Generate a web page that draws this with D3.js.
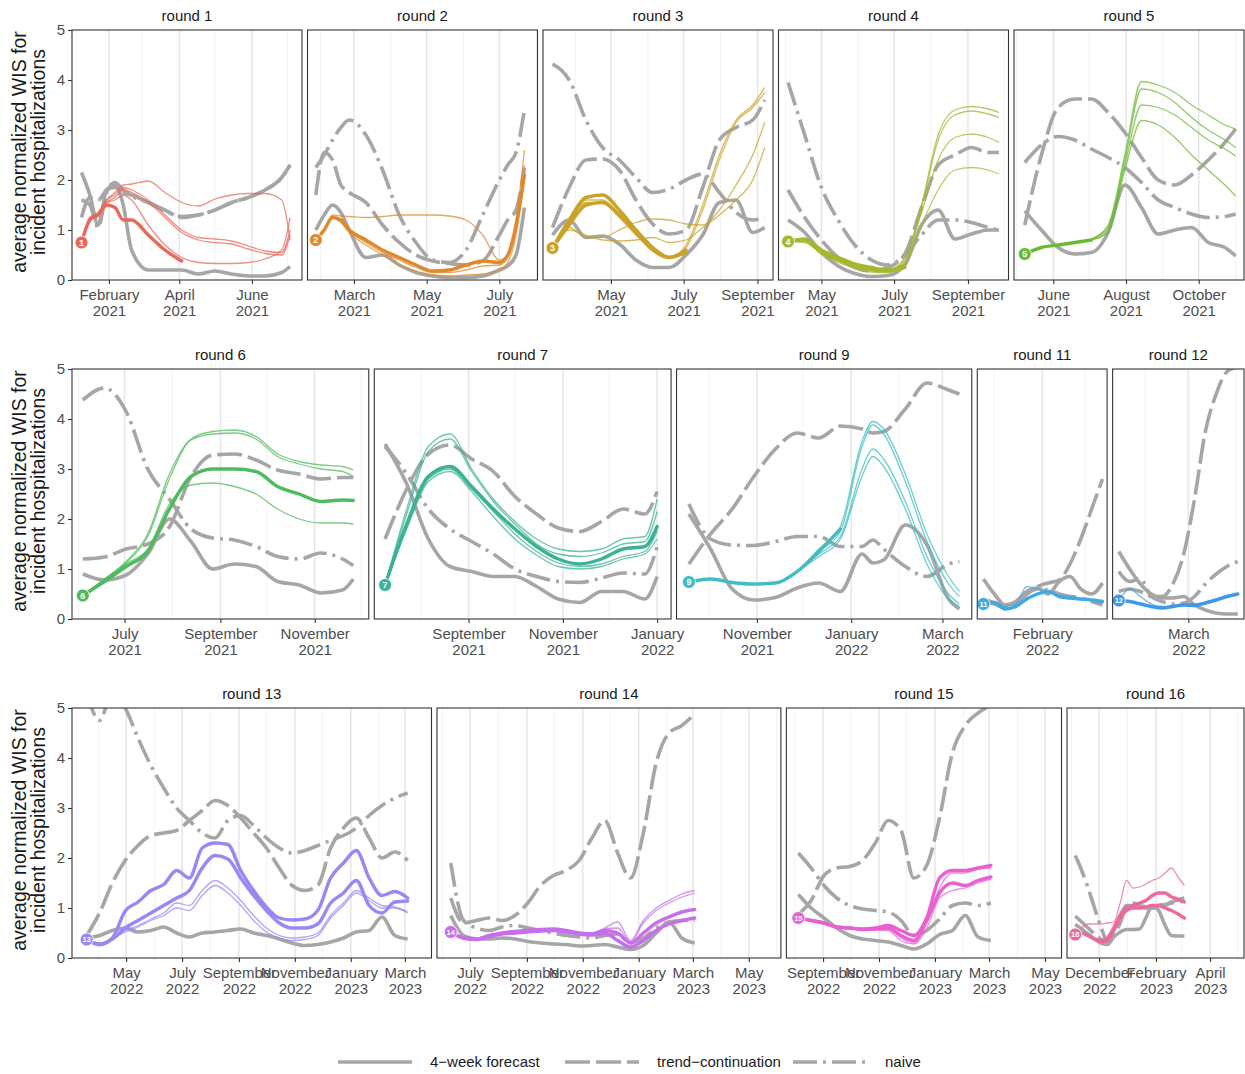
<!DOCTYPE html>
<html><head><meta charset="utf-8">
<script src="https://cdn.jsdelivr.net/npm/d3@7"></script>
<style>
body{margin:0;background:#fff}
svg text{font-family:"Liberation Sans",Arial,Helvetica,sans-serif}
</style>
</head><body>
<svg id="chart" width="1245" height="1074"></svg>
<script>
// ---------------- DATA ----------------
const roundIds = [1,2,3,4,5,6,7,9,11,12,13,14,15,16];
const roundColors = ["#E8685C","#E0882A","#C9A227","#A6B72E","#6CB934","#4FBB5E","#3AB394","#3CBEC3","#40A8E2","#3D97EA","#9A86F5","#C76EEF","#E762D0","#EA6A9E"];
const legendLabels = ["4\u2212week forecast","trend\u2212continuation","naive"];
const yTicks = [0,1,2,3,4,5];

// round 1
const r1Domain = ["2021-01-01","2021-07-13"];
const r1Ticks = ["2021-02-01","2021-04-01","2021-06-01"];
const r1Dates = ["2021-01-09","2021-01-16","2021-01-23","2021-01-30","2021-02-06","2021-02-13","2021-02-20","2021-03-06","2021-03-20","2021-04-03","2021-04-17","2021-05-01","2021-05-15","2021-05-29","2021-06-12","2021-06-26","2021-07-03"];
const r1Forecast = [2.15,1.7,1.1,1.8,1.9,1.5,0.6,0.2,0.2,0.2,0.12,0.18,0.12,0.08,0.08,0.15,0.27];
const r1Trend = [1.25,1.65,1.6,1.8,1.85,1.75,1.7,1.55,1.4,1.25,1.3,1.4,1.55,1.65,1.8,2.05,2.3];
const r1Naive = [1.6,1.5,1.05,1.75,1.95,1.8,1.68,1.55,1.38,1.27,1.3,1.4,1.55,1.65,1.8,2.05,2.3];
const r1Thick = [[0.75,1.2,1.3,1.5,1.45,1.2,1.2,0.9,0.6,0.38,null,null,null,null,null,null,null]];
const r1Thin = [
  [0.75,1.25,1.35,1.6,1.75,1.9,1.92,1.98,1.75,1.55,1.48,1.62,1.7,1.73,1.73,1.6,0.8],
  [0.75,1.25,1.35,1.6,1.7,1.85,1.8,1.6,1.3,1.0,0.85,0.82,0.78,0.68,0.58,0.55,1.0],
  [0.75,1.2,1.3,1.55,1.65,1.8,1.75,1.55,1.25,0.95,0.8,0.75,0.72,0.62,0.53,0.5,0.9],
  [0.75,1.2,1.3,1.55,1.6,1.7,1.6,1.1,0.7,0.45,0.35,0.33,0.33,0.35,0.42,0.6,1.25]];

// round 2
const r2Domain = ["2021-01-21","2021-08-02"];
const r2Ticks = ["2021-03-01","2021-05-01","2021-07-01"];
const r2Dates = ["2021-01-28","2021-02-04","2021-02-11","2021-02-18","2021-02-25","2021-03-11","2021-03-25","2021-04-08","2021-04-22","2021-05-06","2021-05-20","2021-06-03","2021-06-17","2021-07-01","2021-07-08","2021-07-15","2021-07-22"];
const r2Forecast = [1.0,1.3,1.5,1.35,1.0,0.45,0.5,0.3,0.15,0.08,0.05,0.05,0.08,0.2,0.28,0.5,1.45];
const r2Trend = [1.7,2.55,2.4,1.9,1.75,1.55,1.1,0.75,0.5,0.38,0.33,0.3,0.38,0.9,1.2,1.4,2.25];
const r2Naive = [2.25,2.5,2.8,3.05,3.2,2.9,2.2,1.3,0.75,0.4,0.35,0.6,1.3,2.0,2.3,2.55,3.4];
const r2Thick = [[0.8,1.0,1.25,1.2,1.0,0.8,0.6,0.45,0.3,0.18,0.2,0.3,0.38,0.35,0.5,1.1,2.1]];
const r2Thin = [
  [0.8,1.0,1.3,1.28,1.27,1.25,1.27,1.3,1.3,1.3,1.28,1.2,0.9,0.4,0.5,1.2,2.6],
  [0.8,1.0,1.25,1.15,0.95,0.7,0.5,0.3,0.18,0.1,0.08,0.1,0.12,0.2,0.35,0.9,2.0],
  [0.8,1.0,1.25,1.18,1.0,0.75,0.55,0.4,0.25,0.15,0.15,0.2,0.28,0.3,0.45,1.0,2.3]];

// round 3
const r3Domain = ["2021-03-05","2021-09-14"];
const r3Ticks = ["2021-05-01","2021-07-01","2021-09-01"];
const r3Dates = ["2021-03-13","2021-03-27","2021-04-10","2021-04-24","2021-05-08","2021-05-22","2021-06-05","2021-06-19","2021-07-03","2021-07-17","2021-07-31","2021-08-14","2021-08-28","2021-09-07"];
const r3Forecast = [0.9,1.2,0.85,0.88,0.72,0.4,0.25,0.25,0.5,0.9,1.55,1.6,0.95,1.05];
const r3Trend = [1.05,1.85,2.4,2.42,2.2,1.6,1.12,0.92,1.0,1.85,2.8,3.05,3.2,3.6];
const r3Naive = [4.32,4.0,3.2,2.65,2.4,2.05,1.75,1.82,2.0,2.12,1.75,1.35,1.2,1.25];
const r3Thick = [
  [0.64,1.2,1.65,1.7,1.4,1.0,0.65,0.45,0.6,null,null,null,null,null],
  [0.64,1.1,1.5,1.55,1.3,0.95,0.6,0.45,0.55,null,null,null,null,null]];
const r3Thin = [
  [0.64,1.2,1.6,1.6,1.3,0.95,0.6,0.45,0.7,1.5,2.5,3.2,3.5,3.85],
  [0.64,1.15,1.55,1.55,1.25,0.9,0.6,0.45,0.65,1.4,2.4,3.15,3.45,3.75],
  [0.64,1.05,0.85,0.85,1.0,1.15,1.22,1.2,1.12,1.1,1.4,1.9,2.5,3.15],
  [0.64,1.0,0.9,0.8,0.78,0.8,0.85,0.75,0.8,1.05,1.3,1.6,2.0,2.65]];

// round 4
const r4Domain = ["2021-03-26","2021-10-05"];
const r4Ticks = ["2021-05-01","2021-07-01","2021-09-01"];
const r4Dates = ["2021-04-03","2021-04-17","2021-05-01","2021-05-15","2021-05-29","2021-06-12","2021-06-26","2021-07-10","2021-07-24","2021-08-07","2021-08-21","2021-09-04","2021-09-18","2021-09-27"];
const r4Forecast = [1.2,0.95,0.55,0.28,0.13,0.07,0.09,0.3,1.1,1.4,0.82,0.92,1.0,1.0];
const r4Trend = [1.8,1.25,0.8,0.45,0.25,0.18,0.25,0.52,1.45,2.3,2.5,2.65,2.55,2.55];
const r4Naive = [3.95,2.9,1.85,1.2,0.7,0.4,0.3,0.5,0.9,1.2,1.2,1.15,1.05,1.0];
const r4Thick = [
  [0.77,0.82,0.6,0.45,0.32,0.25,0.2,0.3,null,null,null,null,null,null],
  [0.77,0.8,0.55,0.4,0.28,0.22,0.18,0.25,null,null,null,null,null,null]];
const r4Thin = [
  [0.77,0.8,0.6,0.42,0.3,0.22,0.2,0.45,1.5,2.9,3.4,3.47,3.42,3.35],
  [0.77,0.8,0.58,0.4,0.28,0.2,0.18,0.42,1.45,2.8,3.3,3.38,3.32,3.25],
  [0.77,0.78,0.55,0.38,0.26,0.18,0.16,0.38,1.35,2.4,2.85,2.92,2.85,2.75],
  [0.77,0.75,0.52,0.35,0.24,0.16,0.15,0.3,1.1,1.8,2.2,2.25,2.2,2.12]];

// round 5
const r5Domain = ["2021-04-29","2021-11-08"];
const r5Ticks = ["2021-06-01","2021-08-01","2021-10-01"];
const r5Dates = ["2021-05-08","2021-05-22","2021-06-05","2021-06-19","2021-07-03","2021-07-17","2021-07-31","2021-08-14","2021-08-28","2021-09-11","2021-09-25","2021-10-09","2021-10-23","2021-11-01"];
const r5Forecast = [1.38,1.0,0.65,0.52,0.55,0.95,1.9,1.45,0.92,1.0,1.05,0.75,0.65,0.48];
const r5Trend = [1.1,2.5,3.45,3.62,3.62,3.35,2.95,2.45,2.0,1.9,2.1,2.4,2.75,3.02];
const r5Naive = [2.35,2.7,2.87,2.8,2.62,2.45,2.25,1.95,1.6,1.45,1.32,1.25,1.27,1.32];
const r5Thick = [[0.52,0.65,0.7,0.75,0.8,null,null,null,null,null,null,null,null,null]];
const r5Thin = [
  [0.52,0.65,0.7,0.75,0.82,1.1,2.5,3.97,3.9,3.75,3.5,3.3,3.1,3.02],
  [0.52,0.65,0.7,0.75,0.82,1.05,2.4,3.82,3.75,3.55,3.25,3.0,2.8,2.65],
  [0.52,0.65,0.7,0.75,0.8,1.0,2.3,3.5,3.45,3.3,3.05,2.8,2.62,2.48],
  [0.52,0.65,0.7,0.75,0.8,0.95,2.2,3.19,3.1,2.85,2.5,2.2,1.9,1.68]];

// round 6
const r6Domain = ["2021-05-28","2021-12-06"];
const r6Ticks = ["2021-07-01","2021-09-01","2021-11-01"];
const r6Dates = ["2021-06-04","2021-06-18","2021-07-02","2021-07-16","2021-07-30","2021-08-13","2021-08-27","2021-09-10","2021-09-24","2021-10-08","2021-10-22","2021-11-05","2021-11-19","2021-11-26"];
const r6Forecast = [0.9,0.78,0.88,1.3,2.0,1.55,1.0,1.1,1.05,0.75,0.68,0.52,0.58,0.8];
const r6Trend = [1.2,1.24,1.4,1.5,1.84,2.85,3.28,3.3,3.18,2.98,2.9,2.8,2.83,2.83];
const r6Naive = [4.38,4.62,4.15,3.0,2.4,1.8,1.62,1.58,1.45,1.25,1.2,1.32,1.2,1.07];
const r6Thick = [[0.47,0.75,1.05,1.35,2.2,2.85,3.0,3.0,2.95,2.65,2.5,2.35,2.38,2.37]];
const r6Thin = [
  [0.47,0.8,1.15,1.7,2.9,3.6,3.75,3.78,3.65,3.3,3.15,3.08,3.05,2.98],
  [0.47,0.8,1.12,1.65,2.8,3.58,3.7,3.72,3.6,3.25,3.1,3.0,2.95,2.85],
  [0.47,0.78,1.1,1.4,2.3,2.68,2.72,2.65,2.5,2.2,2.0,1.92,1.92,1.9]];

// round 7
const r7Domain = ["2021-07-02","2022-01-10"];
const r7Ticks = ["2021-09-01","2021-11-01","2022-01-01"];
const r7Dates = ["2021-07-09","2021-07-23","2021-08-06","2021-08-20","2021-09-03","2021-09-17","2021-10-01","2021-10-15","2021-10-29","2021-11-12","2021-11-26","2021-12-10","2021-12-24","2022-01-01"];
const r7Forecast = [3.5,2.7,1.6,1.05,0.95,0.85,0.85,0.65,0.4,0.33,0.55,0.55,0.4,0.85];
const r7Trend = [1.6,2.6,3.3,3.48,3.2,2.95,2.45,2.1,1.82,1.75,1.95,2.2,2.1,2.55];
const r7Naive = [3.45,2.9,2.2,1.8,1.55,1.3,1.0,0.85,0.75,0.73,0.82,0.92,0.9,1.45];
const r7Thick = [[0.68,1.9,2.85,3.05,2.65,2.2,1.8,1.45,1.2,1.1,1.2,1.4,1.45,1.85]];
const r7Thin = [
  [0.68,2.2,3.45,3.7,3.0,2.4,1.95,1.6,1.4,1.35,1.4,1.6,1.65,2.4],
  [0.68,2.1,3.35,3.6,2.95,2.35,1.9,1.5,1.3,1.25,1.32,1.5,1.55,2.15],
  [0.68,1.85,2.8,3.0,2.6,2.15,1.7,1.35,1.12,1.05,1.1,1.25,1.35,1.75],
  [0.68,1.8,2.75,2.95,2.55,2.05,1.6,1.28,1.05,1.0,1.05,1.2,1.3,1.6]];

// round 9
const r9Domain = ["2021-09-10","2022-03-20"];
const r9Ticks = ["2021-11-01","2022-01-01","2022-03-01"];
const r9Dates = ["2021-09-18","2021-10-02","2021-10-16","2021-10-30","2021-11-13","2021-11-27","2021-12-11","2021-12-25","2022-01-08","2022-01-15","2022-01-22","2022-02-05","2022-02-19","2022-03-05","2022-03-12"];
const r9Forecast = [2.1,1.4,0.6,0.38,0.43,0.62,0.72,0.55,1.3,1.12,1.18,1.88,1.48,0.4,0.2];
const r9Trend = [1.1,1.7,2.2,2.85,3.4,3.72,3.62,3.86,3.8,3.72,3.75,4.2,4.72,4.58,4.5];
const r9Naive = [2.3,1.6,1.48,1.47,1.55,1.65,1.65,1.45,1.45,1.58,1.4,1.05,0.85,1.1,1.15];
const r9Thick = [[0.74,0.8,0.73,0.7,0.72,0.95,1.35,1.8,null,null,null,null,null,null,null]];
const r9Thin = [
  [0.74,0.8,0.73,0.7,0.72,0.95,1.4,1.85,3.55,3.95,3.8,2.9,1.7,0.85,0.55],
  [0.74,0.8,0.73,0.7,0.72,0.95,1.35,1.75,3.45,3.88,3.7,2.75,1.55,0.7,0.45],
  [0.74,0.8,0.73,0.7,0.72,0.95,1.3,1.65,3.0,3.4,3.2,2.35,1.25,0.5,0.3],
  [0.74,0.8,0.73,0.7,0.72,0.95,1.25,1.6,2.85,3.25,3.05,2.2,1.1,0.4,0.25]];

// round 11
const r11Domain = ["2021-12-21","2022-03-15"];
const r11Ticks = ["2022-02-01"];
const r11Dates = ["2021-12-25","2022-01-01","2022-01-08","2022-01-15","2022-01-22","2022-01-29","2022-02-05","2022-02-12","2022-02-19","2022-02-26","2022-03-05","2022-03-12"];
const r11Forecast = [0.8,0.5,0.28,0.35,0.55,0.62,0.5,0.75,0.85,0.6,0.5,0.72];
const r11Trend = [0.35,0.3,0.22,0.3,0.5,0.65,0.72,0.78,1.1,1.6,2.2,2.8];
const r11Naive = [0.4,0.32,0.22,0.3,0.5,0.6,0.58,0.5,0.45,0.42,0.35,0.28];
const r11Thick = [[0.3,0.33,0.2,0.25,0.4,0.5,0.55,0.45,0.42,0.4,0.38,0.35]];
const r11Thin = [[0.3,0.35,0.25,0.3,0.65,0.6,0.55,0.48,0.45,0.4,0.37,0.32]];

// round 12
const r12Domain = ["2022-01-11","2022-04-06"];
const r12Ticks = ["2022-03-01"];
const r12Dates = ["2022-01-15","2022-01-22","2022-01-29","2022-02-05","2022-02-12","2022-02-19","2022-02-26","2022-03-05","2022-03-12","2022-03-19","2022-03-26","2022-04-02"];
const r12Forecast = [1.35,1.0,0.7,0.5,0.42,0.42,0.45,0.28,0.18,0.12,0.1,0.1];
const r12Trend = [0.55,0.6,0.55,0.45,0.45,0.7,1.3,2.4,3.75,4.5,4.95,5.05];
const r12Naive = [0.95,0.75,0.8,0.45,0.35,0.3,0.32,0.45,0.7,0.9,1.05,1.15];
const r12Thick = [[0.37,0.35,0.3,0.25,0.22,0.25,0.28,0.27,0.32,0.38,0.45,0.5]];
const r12Thin = [[0.37,0.6,0.45,0.3,0.25,0.27,0.3,0.3,0.34,0.4,0.46,0.5]];

// round 13
const r13Domain = ["2022-03-03","2023-03-30"];
const r13Ticks = ["2022-05-01","2022-07-01","2022-09-01","2022-11-01","2023-01-01","2023-03-01"];
const r13Dates = ["2022-03-19","2022-04-02","2022-04-16","2022-04-30","2022-05-14","2022-05-28","2022-06-11","2022-06-25","2022-07-09","2022-07-23","2022-08-06","2022-08-20","2022-09-03","2022-09-17","2022-10-01","2022-10-15","2022-10-29","2022-11-12","2022-11-26","2022-12-10","2022-12-24","2023-01-07","2023-01-21","2023-02-04","2023-02-18","2023-03-04"];
const r13Forecast = [0.4,0.45,0.55,0.6,0.52,0.55,0.62,0.5,0.42,0.5,0.52,0.55,0.58,0.5,0.45,0.38,0.3,0.25,0.27,0.32,0.4,0.52,0.55,0.82,0.45,0.38];
const r13Trend = [0.45,0.9,1.5,1.95,2.25,2.45,2.5,2.55,2.75,2.95,3.15,3.05,2.8,2.5,2.2,1.8,1.45,1.35,1.45,2.2,2.6,2.8,2.4,2.0,2.12,1.95];
const r13Naive = [5.3,4.75,5.3,5.0,4.4,3.85,3.4,3.0,2.75,2.5,2.4,2.75,2.85,2.65,2.4,2.2,2.1,2.15,2.25,2.35,2.45,2.6,2.85,3.05,3.2,3.3];
const r13Thick = [
  [0.37,0.27,0.4,0.94,1.12,1.35,1.47,1.75,1.6,2.2,2.3,2.27,1.75,1.35,1.02,0.8,0.76,0.78,0.95,1.6,1.9,2.15,1.6,1.25,1.33,1.2],
  [0.37,0.27,0.38,0.6,0.75,0.9,1.05,1.2,1.35,1.8,2.05,1.98,1.6,1.25,0.95,0.7,0.6,0.6,0.68,1.1,1.3,1.55,1.05,0.9,1.12,1.14]];
const r13Thin = [
  [0.37,0.3,0.38,0.55,0.65,0.78,0.9,1.1,1.05,1.35,1.55,1.4,1.15,0.85,0.6,0.45,0.4,0.42,0.5,0.85,1.1,1.35,1.2,1.05,1.02,0.93],
  [0.37,0.3,0.38,0.52,0.62,0.75,0.85,1.0,0.95,1.25,1.45,1.3,1.05,0.75,0.52,0.4,0.35,0.37,0.45,0.8,1.05,1.3,1.15,1.0,1.0,0.9]];

// round 14
const r14Domain = ["2022-05-26","2023-06-05"];
const r14Ticks = ["2022-07-01","2022-09-01","2022-11-01","2023-01-01","2023-03-01","2023-05-01"];
const r14Dates = ["2022-06-10","2022-06-24","2022-07-08","2022-07-22","2022-08-05","2022-08-19","2022-09-02","2022-09-16","2022-09-30","2022-10-14","2022-10-28","2022-11-11","2022-11-25","2022-12-09","2022-12-23","2023-01-06","2023-01-20","2023-02-03","2023-02-17","2023-03-03"];
const r14Forecast = [0.85,0.45,0.38,0.38,0.4,0.38,0.33,0.3,0.28,0.27,0.24,0.25,0.27,0.22,0.17,0.25,0.5,0.72,0.4,0.3];
const r14Trend = [1.2,0.7,0.75,0.8,0.75,0.85,1.1,1.45,1.65,1.75,1.95,2.4,2.75,2.1,1.6,2.5,3.9,4.5,4.65,4.88];
const r14Naive = [1.9,0.75,0.6,0.55,0.62,0.65,0.6,0.55,0.5,0.45,0.42,0.4,0.45,0.48,0.3,0.4,0.6,0.72,0.75,0.75];
const r14Thick = [
  [0.52,0.4,0.38,0.45,0.5,0.53,0.55,0.57,0.58,0.55,0.5,0.48,0.55,0.5,0.3,0.5,0.7,0.82,0.92,0.97],
  [0.52,0.4,0.37,0.43,0.48,0.5,0.52,0.54,0.55,0.52,0.48,0.46,0.5,0.35,0.22,0.35,0.55,0.68,0.75,0.8]];
const r14Thin = [
  [0.52,0.42,0.4,0.46,0.5,0.53,0.56,0.58,0.58,0.55,0.5,0.5,0.6,0.72,0.35,0.75,1.0,1.15,1.28,1.35],
  [0.52,0.42,0.4,0.46,0.5,0.53,0.56,0.58,0.58,0.55,0.5,0.5,0.58,0.6,0.32,0.7,0.95,1.1,1.22,1.3]];

// round 15
const r15Domain = ["2022-07-23","2023-05-19"];
const r15Ticks = ["2022-09-01","2022-11-01","2023-01-01","2023-03-01","2023-05-01"];
const r15Dates = ["2022-08-05","2022-08-19","2022-09-02","2022-09-16","2022-09-30","2022-10-14","2022-10-28","2022-11-11","2022-11-25","2022-12-09","2022-12-23","2023-01-06","2023-01-20","2023-02-03","2023-02-17","2023-03-03"];
const r15Forecast = [1.27,1.0,0.8,0.6,0.45,0.38,0.35,0.32,0.25,0.18,0.28,0.47,0.55,0.85,0.42,0.35];
const r15Trend = [0.87,1.15,1.65,1.8,1.83,1.95,2.3,2.75,2.55,1.6,1.85,2.8,4.1,4.65,4.9,5.05];
const r15Naive = [2.1,1.8,1.45,1.2,1.05,0.98,0.95,0.92,0.75,0.45,0.55,0.78,1.05,1.1,1.05,1.1];
const r15Thick = [
  [0.8,0.75,0.7,0.62,0.6,0.58,0.6,0.65,0.55,0.45,0.8,1.6,1.75,1.75,1.8,1.85],
  [0.8,0.75,0.7,0.62,0.6,0.57,0.58,0.6,0.45,0.35,0.75,1.3,1.5,1.45,1.55,1.62]];
const r15Thin = [
  [0.8,0.75,0.7,0.62,0.6,0.57,0.58,0.58,0.4,0.3,0.7,1.4,1.7,1.7,1.78,1.8],
  [0.8,0.75,0.7,0.62,0.6,0.56,0.56,0.55,0.35,0.28,0.6,1.2,1.35,1.4,1.5,1.58]];

// round 16
const r16Domain = ["2022-10-27","2023-05-08"];
const r16Ticks = ["2022-12-01","2023-02-01","2023-04-01"];
const r16Dates = ["2022-11-05","2022-11-12","2022-11-19","2022-11-26","2022-12-03","2022-12-10","2022-12-17","2022-12-24","2022-12-31","2023-01-07","2023-01-14","2023-01-21","2023-01-28","2023-02-04","2023-02-11","2023-02-18","2023-02-25","2023-03-04"];
const r16Forecast = [0.67,0.58,0.48,0.38,0.3,0.27,0.42,0.52,0.57,0.57,0.58,0.8,1.05,0.95,0.65,0.45,0.44,0.44];
const r16Trend = [0.84,0.72,0.6,0.48,0.37,0.28,0.45,0.7,1.05,1.1,1.05,1.0,1.0,1.0,1.05,1.12,1.16,1.2];
const r16Naive = [2.05,1.75,1.4,1.0,0.62,0.35,0.6,0.85,1.05,1.05,1.05,1.02,1.0,1.05,1.07,1.1,1.12,1.14];
const r16Thick = [
  [0.47,0.5,0.45,0.38,0.35,0.4,0.6,0.85,1.0,1.05,1.1,1.15,1.25,1.3,1.3,1.22,1.18,1.12],
  [0.47,0.5,0.45,0.38,0.33,0.35,0.55,0.8,0.95,1.0,1.0,1.02,1.05,1.05,1.0,0.95,0.88,0.8]];
const r16Thin = [[0.47,0.6,0.68,0.68,0.68,0.7,0.72,1.1,1.55,1.4,1.42,1.48,1.55,1.6,1.7,1.8,1.62,1.45]];

// ---------------- ASSEMBLY ----------------
const panels = {
  1:{domain:r1Domain,ticks:r1Ticks,dates:r1Dates,forecast:r1Forecast,trend:r1Trend,naive:r1Naive,thick:r1Thick,thin:r1Thin},
  2:{domain:r2Domain,ticks:r2Ticks,dates:r2Dates,forecast:r2Forecast,trend:r2Trend,naive:r2Naive,thick:r2Thick,thin:r2Thin},
  3:{domain:r3Domain,ticks:r3Ticks,dates:r3Dates,forecast:r3Forecast,trend:r3Trend,naive:r3Naive,thick:r3Thick,thin:r3Thin},
  4:{domain:r4Domain,ticks:r4Ticks,dates:r4Dates,forecast:r4Forecast,trend:r4Trend,naive:r4Naive,thick:r4Thick,thin:r4Thin},
  5:{domain:r5Domain,ticks:r5Ticks,dates:r5Dates,forecast:r5Forecast,trend:r5Trend,naive:r5Naive,thick:r5Thick,thin:r5Thin},
  6:{domain:r6Domain,ticks:r6Ticks,dates:r6Dates,forecast:r6Forecast,trend:r6Trend,naive:r6Naive,thick:r6Thick,thin:r6Thin},
  7:{domain:r7Domain,ticks:r7Ticks,dates:r7Dates,forecast:r7Forecast,trend:r7Trend,naive:r7Naive,thick:r7Thick,thin:r7Thin},
  9:{domain:r9Domain,ticks:r9Ticks,dates:r9Dates,forecast:r9Forecast,trend:r9Trend,naive:r9Naive,thick:r9Thick,thin:r9Thin},
  11:{domain:r11Domain,ticks:r11Ticks,dates:r11Dates,forecast:r11Forecast,trend:r11Trend,naive:r11Naive,thick:r11Thick,thin:r11Thin},
  12:{domain:r12Domain,ticks:r12Ticks,dates:r12Dates,forecast:r12Forecast,trend:r12Trend,naive:r12Naive,thick:r12Thick,thin:r12Thin},
  13:{domain:r13Domain,ticks:r13Ticks,dates:r13Dates,forecast:r13Forecast,trend:r13Trend,naive:r13Naive,thick:r13Thick,thin:r13Thin},
  14:{domain:r14Domain,ticks:r14Ticks,dates:r14Dates,forecast:r14Forecast,trend:r14Trend,naive:r14Naive,thick:r14Thick,thin:r14Thin},
  15:{domain:r15Domain,ticks:r15Ticks,dates:r15Dates,forecast:r15Forecast,trend:r15Trend,naive:r15Naive,thick:r15Thick,thin:r15Thin},
  16:{domain:r16Domain,ticks:r16Ticks,dates:r16Dates,forecast:r16Forecast,trend:r16Trend,naive:r16Naive,thick:r16Thick,thin:r16Thin}
};
roundIds.forEach((id,i)=>{ panels[id].color = roundColors[i]; });

const rows = [[1,2,3,4,5],[6,7,9,11,12],[13,14,15,16]];
const rowTops = [30,369,708];
const L = 72, R = 1244, GAP = 5.5, PH = 250;
const GRAY = "#a6a6a6";
const styles = {
  forecast:{dash:null},
  trend:{dash:"25,6"},
  naive:{dash:"24,6,3,6"}
};
const parse = d3.timeParse("%Y-%m-%d");
const fmtM = d3.timeFormat("%B"), fmtY = d3.timeFormat("%Y");
const svg = d3.select("#chart");
const FONT = '"Liberation Sans",Arial,Helvetica,sans-serif';
let clipId = 0;

rows.forEach((row, ri) => {
  const top = rowTops[ri];
  const durs = row.map(id => parse(panels[id].domain[1]) - parse(panels[id].domain[0]));
  const total = d3.sum(durs);
  const avail = (R - L) - GAP * (row.length - 1);
  let x0 = L;
  row.forEach((id, pi) => {
    const p = panels[id];
    const w = avail * durs[pi] / total;
    const g = svg.append("g").attr("transform", `translate(${x0},${top})`);
    const x = d3.scaleTime().domain(p.domain.map(parse)).range([0, w]);
    const y = d3.scaleLinear().domain([0, 5]).range([PH, 0]);
    const tickDates = p.ticks.map(parse);
    const tickSet = new Set(tickDates.map(d => +d));

    // grid lines (monthly; majors at labelled ticks)
    const months = d3.timeMonth.range(d3.timeMonth.ceil(x.domain()[0]), x.domain()[1]);
    g.append("g").selectAll("line").data(months).join("line")
      .attr("x1", d => x(d)).attr("x2", d => x(d)).attr("y1", 0).attr("y2", PH)
      .attr("stroke", d => tickSet.has(+d) ? "#e6e6e6" : "#f1f1f1")
      .attr("stroke-width", d => tickSet.has(+d) ? 1.5 : 0.9);

    // clip
    const cid = "clip" + (clipId++);
    g.append("clipPath").attr("id", cid).append("rect").attr("width", w).attr("height", PH);
    const plot = g.append("g").attr("clip-path", `url(#${cid})`);

    const dates = p.dates.map(parse);
    const line = d3.line().defined(d => d[1] != null)
      .x(d => x(d[0])).y(d => y(d[1])).curve(d3.curveMonotoneX);
    const pts = arr => dates.map((d, i) => [d, arr[i]]);

    // gray baselines
    ["forecast", "trend", "naive"].forEach(k => {
      plot.append("path").attr("d", line(pts(p[k])))
        .attr("fill", "none").attr("stroke", GRAY).attr("stroke-width", 3.6)
        .attr("stroke-dasharray", styles[k].dash).attr("stroke-linejoin", "round");
    });
    // thin scenario lines
    p.thin.forEach(arr => {
      plot.append("path").attr("d", line(pts(arr)))
        .attr("fill", "none").attr("stroke", p.color).attr("stroke-width", 1.3)
        .attr("stroke-opacity", 0.75);
    });
    // thick lines
    p.thick.forEach(arr => {
      plot.append("path").attr("d", line(pts(arr)))
        .attr("fill", "none").attr("stroke", p.color).attr("stroke-width", 3.4)
        .attr("stroke-linejoin", "round").attr("stroke-linecap", "round");
    });
    // start marker
    const v0 = (p.thick[0] || p.thin[0])[0];
    const cg = g.append("g").attr("transform", `translate(${x(dates[0])},${y(v0)})`);
    cg.append("circle").attr("r", 6.5).attr("fill", p.color).attr("stroke", "#fff").attr("stroke-width", 0.8);
    cg.append("text").attr("text-anchor", "middle").attr("dy", "0.35em")
      .attr("fill", "#fff").attr("font-size", id >= 10 ? 7.5 : 9).attr("font-weight", "bold")
      .attr("font-family", FONT).text(id);

    // border
    g.append("rect").attr("width", w).attr("height", PH)
      .attr("fill", "none").attr("stroke", "#333").attr("stroke-width", 1.1);

    // x axis
    const xa = g.append("g").attr("transform", `translate(0,${PH})`)
      .call(d3.axisBottom(x).tickValues(tickDates).tickSize(4).tickFormat(""));
    xa.select(".domain").remove();
    xa.selectAll(".tick line").attr("stroke", "#333").attr("stroke-width", 1.1);
    xa.selectAll(".tick text").each(function(d) {
      const t = d3.select(this).attr("dy", null).attr("y", null)
        .attr("fill", "#4d4d4d").attr("font-size", 15).attr("font-family", FONT);
      t.text(null);
      t.append("tspan").attr("x", 0).attr("y", 19.5).text(fmtM(d));
      t.append("tspan").attr("x", 0).attr("y", 35.5).text(fmtY(d));
    });

    // y axis on first panel of row
    if (pi === 0) {
      const ya = g.append("g").call(d3.axisLeft(y).tickValues(yTicks).tickSize(4).tickPadding(3).tickFormat(d3.format("d")));
      ya.select(".domain").remove();
      ya.selectAll(".tick line").attr("stroke", "#333").attr("stroke-width", 1.1);
      ya.selectAll(".tick text").attr("fill", "#4d4d4d").attr("font-size", 15).attr("font-family", FONT);
    }

    // strip title
    g.append("text").attr("x", w / 2).attr("y", -9).attr("text-anchor", "middle")
      .attr("font-size", 15).attr("fill", "#1a1a1a").attr("font-family", FONT)
      .text("round " + id);

    x0 += w + GAP;
  });

  // y-axis title
  const cy = top + PH / 2 - 3;
  [["average normalized WIS for", 26], ["incident hospitalizations", 45]].forEach(([txt, xx]) => {
    svg.append("text").attr("transform", `translate(${xx},${cy}) rotate(-90)`)
      .attr("text-anchor", "middle").attr("font-size", 19.5).attr("fill", "#1a1a1a")
      .attr("font-family", FONT).text(txt);
  });
});

// legend
const legendKeys = ["forecast", "trend", "naive"];
const legendX = [338, 565, 793];
const legendY = 1062;
legendKeys.forEach((k, i) => {
  svg.append("line").attr("x1", legendX[i]).attr("x2", legendX[i] + 74)
    .attr("y1", legendY).attr("y2", legendY)
    .attr("stroke", GRAY).attr("stroke-width", 3.6).attr("stroke-dasharray", styles[k].dash);
  svg.append("text").attr("x", legendX[i] + 92).attr("y", legendY + 5)
    .attr("font-size", 15).attr("fill", "#1a1a1a").attr("font-family", FONT)
    .text(legendLabels[i]);
});
</script>
</body></html>
